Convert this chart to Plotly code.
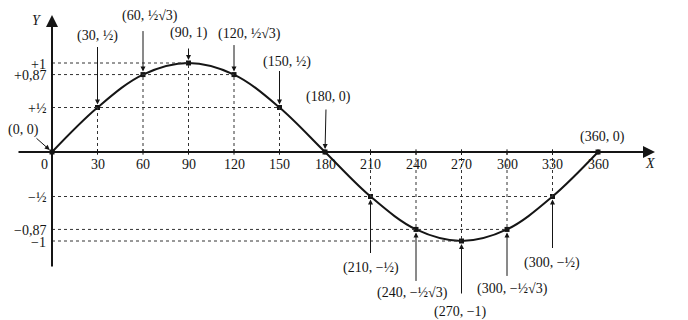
import plotly.graph_objects as go

# ---- data ----
angles = [0, 30, 60, 90, 120, 150, 180, 210, 240, 270, 300, 330, 360]
values = [0, 0.5, 0.87, 1, 0.87, 0.5, 0, -0.5, -0.87, -1, -0.87, -0.5, 0]
point_labels = ["(0, 0)", "(30, ½)", "(60, ½√3)", "(90, 1)", "(120, ½√3)",
                "(150, ½)", "(180, 0)", "(210, −½)", "(240, −½√3)",
                "(270, −1)", "(300, −½√3)", "(300, −½)", "(360, 0)"]
xtick_vals = [0, 30, 60, 90, 120, 150, 180, 210, 240, 270, 300, 330, 360]
xtick_text = ["0", "30", "60", "90", "120", "150", "180", "210", "240",
              "270", "300", "330", "360"]
ytick_vals = [1, 0.87, 0.5, -0.5, -0.87, -1]
ytick_text = ["+1", "+0,87", "+½", "−½", "−0,87", "−1"]

# ---- layout constants (pixels) ----
W, H = 688, 320
X0PX, PXDEG = 52, 1.5167
Y0PX, PXUNIT = 152, 89.0
xr = [-X0PX / PXDEG, (W - X0PX) / PXDEG]
yr = [-(H - Y0PX) / PXUNIT, Y0PX / PXUNIT]

FONT = "Liberation Serif"
INK = "#151515"
FS = 14

# text offset (dx, dy) and arrow tail offset (ax, ay) per point, in pixels
text_off = [(-29, -22), (0, -72), (7, -59), (0, -30), (15, -41), (7, -46),
            (3, -55), (0, 71), (-4, 64), (-1, 71), (5, 60), (-1, 66), (4, -15)]
arrow_off = [(-17, -15), (0, -62), (0, -45), (0, -16), (0, -31), (0, -38),
             (1, -44), (0, 58), (0, 53), (0, 54), (0, 48), (0, 53), None]

fig = go.Figure()

# dotted guide lines
shapes = []
for a, v in zip(angles, values):
    if v == 0:
        continue
    shapes.append(dict(type="line", xref="x", yref="y", x0=a, x1=a, y0=0, y1=v,
                       line=dict(color="#333", width=1, dash="dot")))
for lv in ytick_vals:
    far = max(a for a, v in zip(angles, values) if v == lv)
    shapes.append(dict(type="line", xref="x", yref="y", x0=0, x1=far, y0=lv, y1=lv,
                       line=dict(color="#333", width=1, dash="dot")))
for a in xtick_vals[1:]:
    shapes.append(dict(type="line", xref="x", yref="y", x0=a, x1=a,
                       y0=-0.03, y1=0.03, line=dict(color=INK, width=1)))

fig.add_trace(go.Scatter(x=angles, y=values, mode="lines+markers",
                         line=dict(color=INK, width=2, shape="spline", smoothing=1.0),
                         marker=dict(color=INK, size=5, symbol="square"),
                         hoverinfo="skip", showlegend=False))

ann = []
ann.append(dict(x=(655 - X0PX) / PXDEG, y=0, ax=(17 - X0PX) / PXDEG, ay=0,
                xref="x", yref="y", axref="x", ayref="y", text="", showarrow=True,
                arrowhead=2, arrowsize=1.2, arrowwidth=2, arrowcolor=INK))
ann.append(dict(x=0, y=(Y0PX - 15) / PXUNIT, ax=0, ay=-(268 - Y0PX) / PXUNIT,
                xref="x", yref="y", axref="x", ayref="y", text="", showarrow=True,
                arrowhead=2, arrowsize=1.2, arrowwidth=2, arrowcolor=INK))
ann.append(dict(x=(650 - X0PX) / PXDEG, y=-(163 - Y0PX) / PXUNIT, text="<i>X</i>",
                showarrow=False, font=dict(family=FONT, size=FS, color=INK)))
ann.append(dict(x=(37 - X0PX) / PXDEG, y=(Y0PX - 20) / PXUNIT, text="<i>Y</i>",
                showarrow=False, font=dict(family=FONT, size=FS, color=INK)))

for a, t in zip(xtick_vals, xtick_text):
    ann.append(dict(x=a, y=0, text=t, showarrow=False, yshift=-12,
                    xshift=-8 if a == 0 else 0,
                    font=dict(family=FONT, size=FS, color=INK)))
for v, t in zip(ytick_vals, ytick_text):
    ann.append(dict(x=0, y=v, text=t, showarrow=False, xanchor="right", xshift=-4,
                    yshift=-1, font=dict(family=FONT, size=FS, color=INK)))

for a, v, lab, (dx, dy), aoff in zip(angles, values, point_labels, text_off, arrow_off):
    ann.append(dict(x=a, y=v, text=lab, showarrow=False, xshift=dx, yshift=-dy,
                    font=dict(family=FONT, size=FS, color=INK)))
    if aoff is not None:
        ann.append(dict(x=a, y=v, text="", showarrow=True, ax=aoff[0], ay=aoff[1],
                        arrowhead=2, arrowsize=1, arrowwidth=1, arrowcolor=INK,
                        standoff=3))

fig.update_layout(
    width=W, height=H, margin=dict(l=0, r=0, t=0, b=0),
    paper_bgcolor="white", plot_bgcolor="white",
    xaxis=dict(range=xr, visible=False, fixedrange=True),
    yaxis=dict(range=yr, visible=False, fixedrange=True),
    shapes=shapes, annotations=ann,
)

fig.write_html("out.html")
